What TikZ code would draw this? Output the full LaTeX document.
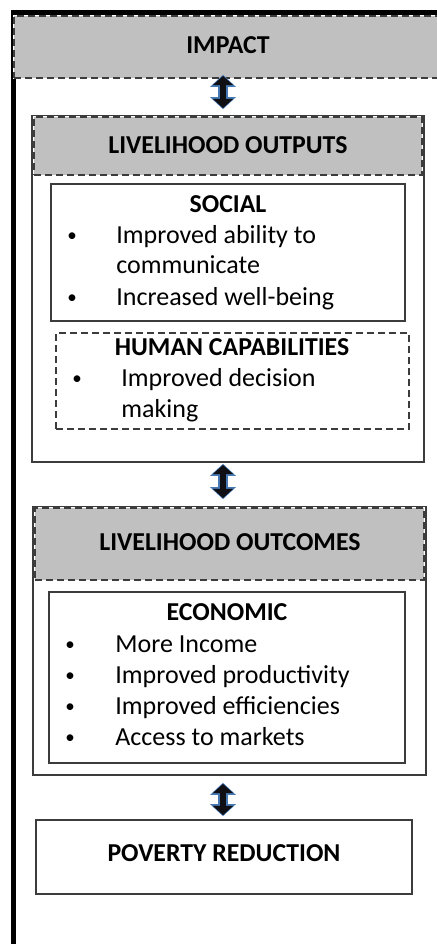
\documentclass[tikz,border=0pt]{standalone}
\usepackage{fontspec}
\setmainfont{Carlito}
\usetikzlibrary{fit,arrows.meta}
\definecolor{hdrgray}{RGB}{192,192,192}
\definecolor{edge}{RGB}{60,60,60}
\definecolor{arrblue}{RGB}{70,120,180}
\definecolor{arrdark}{RGB}{15,15,20}
\begin{document}
\begin{tikzpicture}[x=0.5pt,y=-0.5pt,
  every node/.style={font=\fontsize{13}{15.5}\selectfont, text=black},
  solidbox/.style={draw=edge, line width=0.8pt, inner sep=0pt},
  hdrbox/.style={fill=hdrgray, draw=edge, line width=0.8pt, dash pattern=on 3.5pt off 2pt,
     preaction={draw=white, solid, line width=0.8pt}, inner sep=0pt},
  dashbox/.style={draw=edge, line width=0.8pt, dash pattern=on 3.5pt off 2pt, inner sep=0pt},
  title/.style={font=\fontsize{12.9}{15.5}\selectfont\bfseries, text height=0.7em, text depth=0.2em, inner sep=0pt},
  txt/.style={anchor=west, text height=0.7em, text depth=0.2em, inner sep=0pt},
  bul/.style={anchor=center, inner sep=0pt, font=\fontsize{9.5}{11}\selectfont},
  arrouter/.style={draw=arrblue, line width=4.8pt, {Triangle[width=12.5pt,length=6pt]}-{Triangle[width=12.5pt,length=6pt]}},
  arrinner/.style={draw=arrdark, line width=3.2pt, {Triangle[width=10pt,length=4.6pt]}-{Triangle[width=10pt,length=4.6pt]}}
]
\useasboundingbox (0,0) rectangle (436,944);
\fill[white] (0,0) rectangle (436,944);

% outer frame
\draw[line width=2.6pt, black] (13.5,950) -- (13.5,13) -- (440,13);

% IMPACT header
\node[hdrbox, fit={(14,16)(450,78)}] (impactbox) {};
\node[title] (impact) at (228,48) {IMPACT};

% LIVELIHOOD OUTPUTS
\node[solidbox, fit={(32,116)(424,462)}] (outputs) {};
\node[hdrbox, fit={(34,117)(422,175)}] (outhdr) {};
\node[title] (outtitle) at (228,148) {LIVELIHOOD OUTPUTS};

\node[solidbox, fit={(51,184)(405,321)}] (social) {};
\node[title] (socialt) at (228,207) {SOCIAL};
\node[bul] (sb1) at (72,237) {•};
\node[txt] (s1) at (116,238) {Improved ability to};
\node[txt] (s2) at (116,268) {communicate};
\node[bul] (sb2) at (72,299) {•};
\node[txt] (s3) at (116,300) {Increased well-being};

\node[dashbox, fit={(56,333)(409,429)}] (human) {};
\node[title] (humant) at (232,350) {HUMAN CAPABILITIES};
\node[bul] (hb1) at (77,380) {•};
\node[txt] (h1) at (121,381) {Improved decision};
\node[txt] (h2) at (121,412) {making};

% LIVELIHOOD OUTCOMES
\node[solidbox, fit={(33,507)(426,775)}] (outcomes) {};
\node[hdrbox, fit={(35,508)(424,580)}] (ochdr) {};
\node[title] (octitle) at (230,545) {LIVELIHOOD OUTCOMES};

\node[solidbox, fit={(49,592)(405,763)}] (economic) {};
\node[title] (econt) at (227,615) {ECONOMIC};
\node[bul] (eb1) at (70,646) {•};
\node[txt] (e1) at (115,647) {More Income};
\node[bul] (eb2) at (70,677) {•};
\node[txt] (e2) at (115,678) {Improved productivity};
\node[bul] (eb3) at (70,708) {•};
\node[txt] (e3) at (115,709) {Improved efficiencies};
\node[bul] (eb4) at (70,739) {•};
\node[txt] (e4) at (115,740) {Access to markets};

% POVERTY REDUCTION
\node[solidbox, fit={(36,820)(412,894)}] (poverty) {};
\node[title] (povt) at (224,856) {POVERTY REDUCTION};

% arrows
\coordinate (a1t) at (impactbox.south -| 223,0);
\coordinate (a1b) at (outputs.north -| 223,0);
\draw[arrouter, shorten <=-2pt, shorten >=3pt] (a1t) -- (a1b);
\draw[arrinner, shorten <=-1.4pt, shorten >=3.6pt] (a1t) -- (a1b);

\coordinate (a2t) at (outputs.south -| 223,0);
\coordinate (a2b) at (outcomes.north -| 223,0);
\draw[arrouter, shorten <=0.5pt, shorten >=3.5pt] (a2t) -- (a2b);
\draw[arrinner, shorten <=1.1pt, shorten >=4.1pt] (a2t) -- (a2b);

\coordinate (a3t) at (outcomes.south -| 223,0);
\coordinate (a3b) at (poverty.north -| 223,0);
\draw[arrouter, shorten <=3.5pt, shorten >=1.5pt] (a3t) -- (a3b);
\draw[arrinner, shorten <=4.1pt, shorten >=2.1pt] (a3t) -- (a3b);
\end{tikzpicture}
\end{document}
